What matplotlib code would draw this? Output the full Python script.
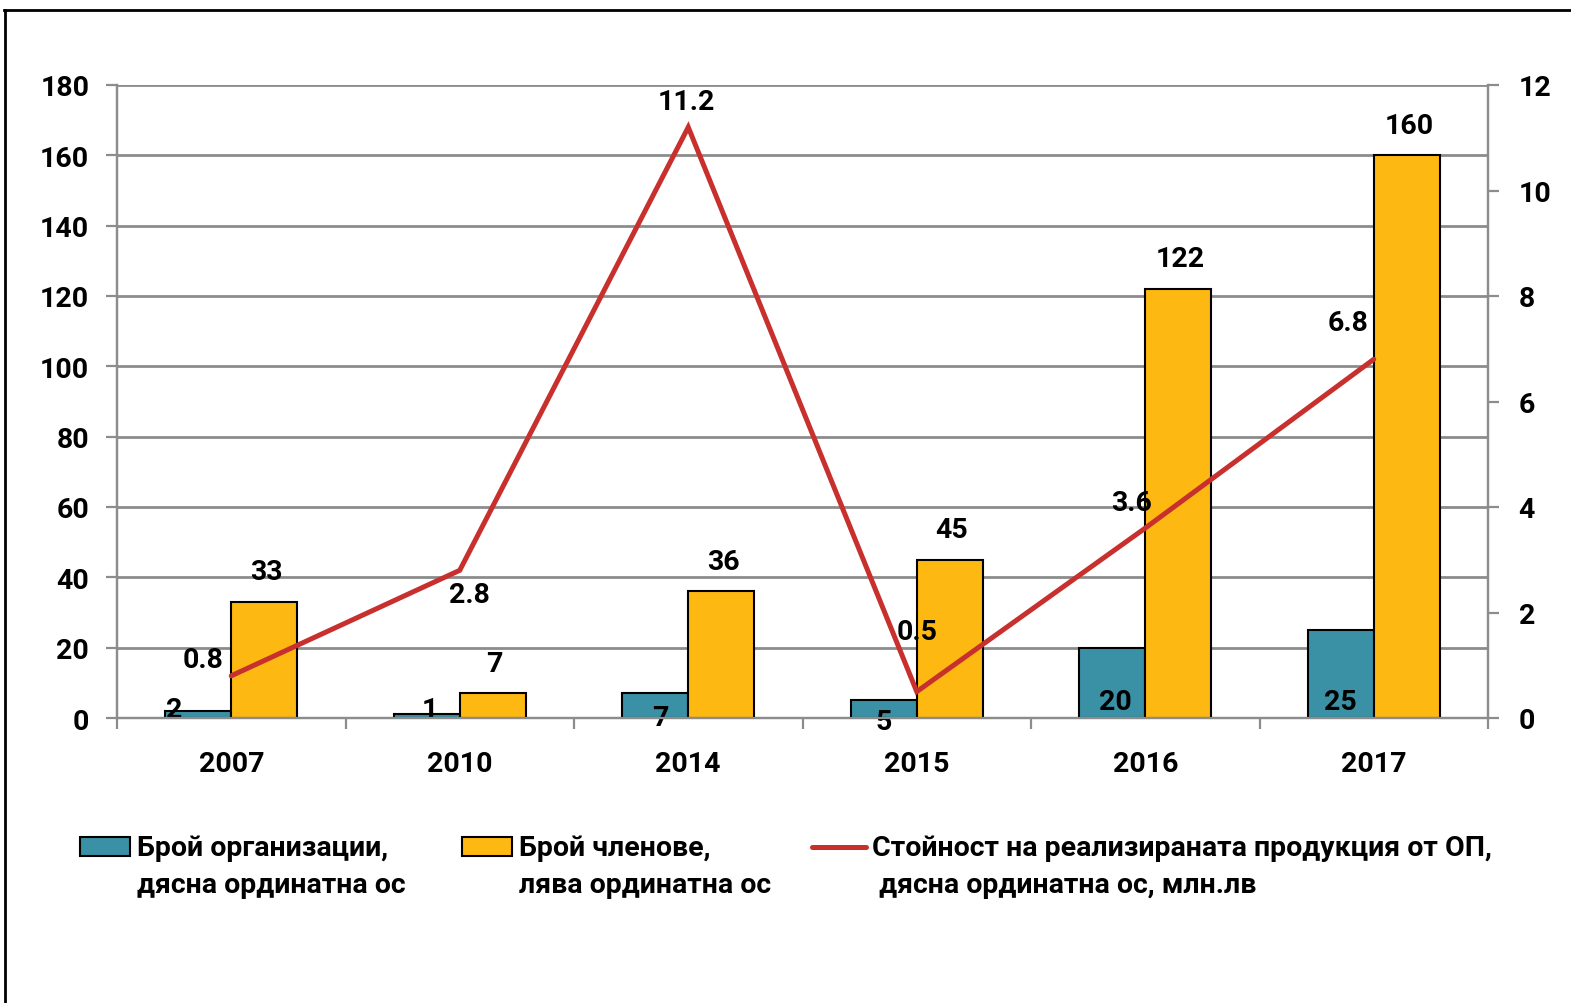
import matplotlib
matplotlib.use("Agg")
import matplotlib.pyplot as plt
import numpy as np
from matplotlib.patches import Rectangle
from matplotlib.lines import Line2D

# ---- data ----
years = ["2007", "2010", "2014", "2015", "2016", "2017"]
organizations = [2, 1, 7, 5, 20, 25]
members = [33, 7, 36, 45, 122, 160]
value_mln = [0.8, 2.8, 11.2, 0.5, 3.6, 6.8]
left_ticks = [0, 20, 40, 60, 80, 100, 120, 140, 160, 180]
right_ticks = [0, 2, 4, 6, 8, 10, 12]
legend_labels = [
    ("Брой организации,", "дясна ординатна ос"),
    ("Брой членове,", "лява ординатна ос"),
    ("Стойност на реализираната продукция от ОП,", " дясна ординатна ос, млн.лв"),
]

FONT = ["Roboto", "DejaVu Sans"]
plt.rcParams["font.family"] = FONT
plt.rcParams["font.weight"] = "bold"

TEAL = "#3A90A5"
YELLOW = "#FDB812"
RED = "#C8302E"
GRID = "#8C8C8C"
FS = 20.5

W, H = 1571, 1004
fig = plt.figure(figsize=(W / 100, H / 100), dpi=100)

def fx(px):
    return px / W

def fy(py):
    return 1 - py / H

ax = fig.add_axes([fx(117), fy(719), fx(1488) - fx(117), fy(86) - fy(719)])
ax2 = ax.twinx()

x = np.arange(len(years))
w = 0.289
ax.bar(x - w / 2, organizations, w, color=TEAL, edgecolor="black", linewidth=1.5, zorder=3)
ax.bar(x + w / 2, members, w, color=YELLOW, edgecolor="black", linewidth=1.5, zorder=3)

ax.set_xlim(-0.5, len(years) - 0.5)
ax.set_ylim(0, 180)
ax.set_yticks(left_ticks)
ax.grid(axis="y", color=GRID, linewidth=2, zorder=0)
ax.set_axisbelow(True)

ax2.set_ylim(0, 12)
ax2.set_yticks(right_ticks)
ax2.plot(x, value_mln, color=RED, linewidth=3.6, zorder=5, solid_capstyle="round", solid_joinstyle="miter")
ax2.set_zorder(ax.get_zorder() + 1)
ax2.patch.set_visible(False)

for a in (ax, ax2):
    for s in a.spines.values():
        s.set_color(GRID)
        s.set_linewidth(1.6)
    a.spines["top"].set_visible(False)

ax.set_xticks(x)
ax.set_xticklabels(years)
ax.set_xticks(np.arange(-0.5, len(years)), minor=True)
ax.tick_params(axis="x", which="major", length=0, pad=23, labelsize=FS)
ax.tick_params(axis="x", which="minor", length=8, width=1.6, color=GRID, direction="out")
ax.tick_params(axis="y", length=8, width=1.6, color=GRID, pad=12, labelsize=FS)
ax2.tick_params(axis="y", length=8, width=1.6, color=GRID, pad=14, labelsize=FS)
for lbl in ax.get_xticklabels() + ax.get_yticklabels() + ax2.get_yticklabels():
    lbl.set_fontweight("bold")

# ---- data labels ----
k = 0.72  # px -> pt
org_off = [(-24, 8), (3, 8), (5, 1), (0, -3), (3, 16), (0, 17)]
for i, v in enumerate(organizations):
    dx, dy = org_off[i]
    ax.annotate(str(v), (x[i] - w / 2, 0), xytext=(dx * k, dy * k), textcoords="offset points",
                ha="center", va="center", fontsize=FS, fontweight="bold", zorder=6)
for i, v in enumerate(members):
    ax.annotate(str(v), (x[i] + w / 2, v), xytext=(2 * k, 30 * k), textcoords="offset points",
                ha="center", va="center", fontsize=FS, fontweight="bold")
line_off = [(-28, 16), (10, -24), (-2, 26), (0, 60), (-14, 26), (-26, 37)]
for i, v in enumerate(value_mln):
    dx, dy = line_off[i]
    ax2.annotate(f"{v:g}", (x[i], v), xytext=(dx * k, dy * k), textcoords="offset points",
                 ha="center", va="center", fontsize=FS, fontweight="bold", zorder=7)

# ---- legend (manual) ----
handles_x = [(80, 130, 137, 137), (462, 512, 519, 519), (812, 866, 872, 872)]
colors = [TEAL, YELLOW, RED]
for j, (lab1, lab2) in enumerate(legend_labels):
    x0, x1, tx1, tx2 = handles_x[j]
    if j < 2:
        fig.add_artist(Rectangle((fx(x0), fy(857)), fx(x1) - fx(x0), fy(838) - fy(857),
                                 transform=fig.transFigure, facecolor=colors[j],
                                 edgecolor="black", linewidth=1.5))
    else:
        fig.add_artist(Line2D([fx(x0), fx(x1)], [fy(848), fy(848)], transform=fig.transFigure,
                              color=RED, linewidth=3.6, solid_capstyle="round"))
    fig.text(fx(tx1), fy(848), lab1, ha="left", va="center", fontsize=FS, fontweight="bold")
    fig.text(fx(tx2), fy(886), lab2, ha="left", va="center", fontsize=FS, fontweight="bold")

# ---- frame (top and left border) ----
fig.add_artist(Line2D([fx(4), 1], [fy(11), fy(11)], transform=fig.transFigure, color="black", linewidth=2))
fig.add_artist(Line2D([fx(5), fx(5)], [fy(11), 0], transform=fig.transFigure, color="black", linewidth=2))

fig.savefig("out.png", dpi=100)
